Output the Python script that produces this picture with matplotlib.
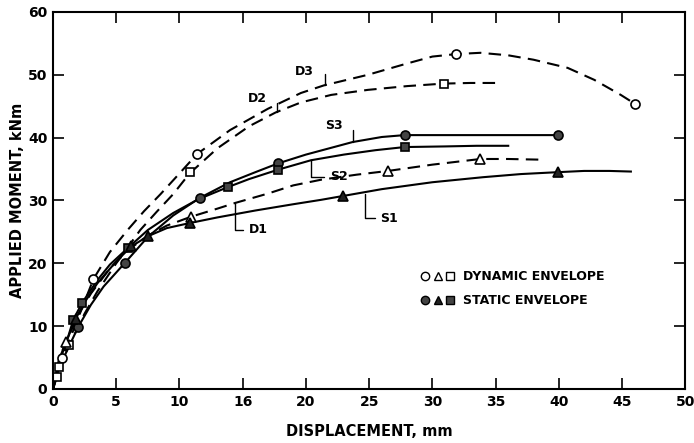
import matplotlib
matplotlib.use("Agg")
import matplotlib.pyplot as plt
from matplotlib.lines import Line2D
from matplotlib.legend_handler import HandlerTuple

# Curves: displacement (mm) vs applied moment (kNm)
d3_x = [0, 0.7, 1.5, 3.2, 4.5, 5.9, 7.2, 8.5, 10.0, 11.4, 14.0, 17.0, 19.6, 21.4, 24.9, 28.0,
        30.0, 31.9, 33.8, 36.0, 38.0, 40.7, 42.8, 44.9, 46.0]
d3_y = [0, 4.9, 8.8, 17.5, 21.8, 25.3, 28.3, 31.0, 34.3, 37.4, 41.2, 44.6, 47.1, 48.3, 50.0, 51.8,
        52.9, 53.3, 53.5, 53.1, 52.4, 51.1, 49.2, 46.8, 45.4]
d3_mx = [0.7, 3.2, 11.4, 31.9, 46.0]
d3_my = [4.9, 17.5, 37.4, 53.3, 45.4]

d2_x = [0, 0.3, 0.5, 1.3, 2.5, 3.5, 5.0, 6.9, 8.2, 9.5, 10.8, 13.0, 15.5, 17.6, 19.6, 22.0,
        24.9, 28.0, 30.9, 33.0, 35.3]
d2_y = [0, 1.9, 3.5, 7.0, 12.0, 15.5, 20.0, 25.3, 28.2, 31.0, 34.3, 38.3, 41.8, 44.0, 45.6, 46.8,
        47.6, 48.2, 48.6, 48.7, 48.7]
d2_mx = [0.3, 0.5, 1.3, 10.8, 30.9]
d2_my = [1.9, 3.5, 7.0, 34.6, 48.6]

d1_x = [0, 0.5, 1.0, 2.0, 3.0, 4.5, 6.0, 7.5, 9.0, 10.9, 13.0, 14.4, 17.0, 19.0, 21.2, 24.0,
        26.5, 30.0, 33.8, 36.0, 38.4]
d1_y = [0, 4.9, 7.4, 11.8, 15.2, 19.2, 22.2, 24.4, 26.0, 27.4, 28.7, 29.6, 31.1, 32.4, 33.3, 34.1,
        34.7, 35.7, 36.6, 36.6, 36.5]
d1_mx = [1.0, 10.9, 26.5, 33.8]
d1_my = [7.4, 27.4, 34.7, 36.6]

s3_x = [0, 0.5, 1.2, 2.0, 3.0, 4.0, 5.7, 7.5, 9.5, 11.6, 14.0, 16.0, 17.8, 20.0, 23.7, 26.0,
        27.8, 32.0, 36.0, 39.9]
s3_y = [0, 3.5, 6.5, 9.9, 13.4, 16.3, 20.1, 24.2, 27.6, 30.4, 32.9, 34.5, 35.9, 37.3, 39.3, 40.1,
        40.4, 40.4, 40.4, 40.4]
s3_mx = [2.0, 5.7, 11.6, 17.8, 27.8, 39.9]
s3_my = [9.9, 20.1, 30.4, 35.9, 40.4, 40.4]

s2_x = [0, 0.5, 1.0, 1.6, 2.3, 3.5, 4.5, 5.9, 7.5, 9.5, 11.5, 13.8, 15.5, 17.8, 20.4, 23.0,
        25.5, 27.8, 31.0, 33.5, 36.0]
s2_y = [0, 4.5, 7.0, 11.0, 13.7, 17.3, 19.8, 22.4, 25.3, 28.0, 30.2, 32.1, 33.4, 34.9, 36.4, 37.3,
        38.0, 38.5, 38.6, 38.7, 38.7]
s2_mx = [1.6, 2.3, 5.9, 13.8, 17.8, 27.8]
s2_my = [11.0, 13.7, 22.4, 32.1, 34.9, 38.5]

s1_x = [0, 0.5, 1.0, 1.8, 2.5, 3.5, 5.0, 6.2, 7.5, 9.0, 10.8, 13.0, 16.0, 19.0, 21.2, 22.9,
        26.0, 30.0, 34.0, 37.0, 39.9, 42.0, 44.0, 45.7]
s1_y = [0, 4.8, 7.3, 11.2, 13.8, 16.8, 20.3, 22.7, 24.3, 25.6, 26.4, 27.3, 28.4, 29.4, 30.1, 30.7,
        31.8, 32.9, 33.7, 34.2, 34.5, 34.7, 34.7, 34.6]
s1_mx = [1.8, 6.2, 7.5, 10.8, 22.9, 39.9]
s1_my = [11.2, 22.7, 24.3, 26.4, 30.7, 34.5]

x_ticks = [0, 5, 10, 15, 20, 25, 30, 35, 40, 45, 50]
x_tick_labels = ["0", "5", "10", "16", "20", "25", "30", "35", "40", "45", "50"]
y_ticks = [0, 10, 20, 30, 40, 50, 60]

# curve labels: text position, point on curve
labels = [
    ("D3", (19.9, 50.5), (21.5, 48.4), "right"),
    ("D2", (16.2, 46.3), (17.7, 44.1), "right"),
    ("S3", (22.2, 41.9), (23.7, 39.3), "right"),
    ("S2", (21.9, 33.8), (20.4, 36.5), "left"),
    ("D1", (15.5, 25.3), (14.4, 29.6), "left"),
    ("S1", (25.9, 27.2), (24.7, 31.0), "left"),
]

plt.rcParams["font.family"] = "DejaVu Sans"
plt.rcParams["font.weight"] = "bold"

fig = plt.figure(figsize=(6.94, 4.43), dpi=100)
ax = fig.add_axes([0.0764, 0.122, 0.911, 0.851])

dash = (6, 3.5)
lw = 1.5
ms = 6.5

ax.plot(d3_x, d3_y, color="black", lw=lw, dashes=dash)
ax.plot(d2_x, d2_y, color="black", lw=lw, dashes=dash)
ax.plot(d1_x, d1_y, color="black", lw=lw, dashes=dash)
ax.plot(s3_x, s3_y, color="black", lw=lw)
ax.plot(s2_x, s2_y, color="black", lw=lw)
ax.plot(s1_x, s1_y, color="black", lw=lw)

ax.plot(d3_mx, d3_my, "o", mfc="white", mec="black", mew=1.2, ms=ms, ls="none")
ax.plot(d2_mx, d2_my, "s", mfc="white", mec="black", mew=1.2, ms=ms - 0.5, ls="none")
ax.plot(d1_mx, d1_my, "^", mfc="white", mec="black", mew=1.2, ms=ms, ls="none")
ax.plot(s3_mx, s3_my, "o", mfc="#444444", mec="black", mew=1.2, ms=ms, ls="none")
ax.plot(s2_mx, s2_my, "s", mfc="#444444", mec="black", mew=1.2, ms=ms - 0.5, ls="none")
ax.plot(s1_mx, s1_my, "^", mfc="#222222", mec="black", mew=1.2, ms=ms, ls="none")

for name, txt, pt, side in labels:
    if side == "right":
        ax.annotate(name, xy=pt, xytext=txt, fontsize=9, fontweight="bold",
                    ha="center", va="center",
                    arrowprops=dict(arrowstyle="-", lw=1.0, color="black",
                                    connectionstyle="angle,angleA=0,angleB=90,rad=0",
                                    shrinkA=6, shrinkB=0))
    else:
        ax.annotate(name, xy=pt, xytext=txt, fontsize=9, fontweight="bold",
                    ha="left", va="center",
                    arrowprops=dict(arrowstyle="-", lw=1.0, color="black",
                                    connectionstyle="angle,angleA=180,angleB=90,rad=0",
                                    shrinkA=2, shrinkB=0))

dyn = (Line2D([], [], marker="o", ls="none", mfc="white", mec="black", ms=6),
       Line2D([], [], marker="^", ls="none", mfc="white", mec="black", ms=6),
       Line2D([], [], marker="s", ls="none", mfc="white", mec="black", ms=5.5))
sta = (Line2D([], [], marker="o", ls="none", mfc="#444444", mec="black", ms=6),
       Line2D([], [], marker="^", ls="none", mfc="#222222", mec="black", ms=6),
       Line2D([], [], marker="s", ls="none", mfc="#444444", mec="black", ms=5.5))
ax.legend([dyn, sta], ["DYNAMIC ENVELOPE", "STATIC ENVELOPE"],
          handler_map={tuple: HandlerTuple(ndivide=None, pad=0.2)},
          loc="upper left", bbox_to_anchor=(0.563, 0.345), frameon=False,
          handlelength=2.8, handletextpad=0.6, labelspacing=0.9,
          prop={"size": 9, "weight": "bold"})

ax.set_xlim(0, 50)
ax.set_ylim(0, 60)
ax.set_xticks(x_ticks)
ax.set_xticklabels(x_tick_labels)
ax.set_yticks(y_ticks)
ax.tick_params(direction="in", length=8, width=1.2, top=True, right=True,
               labelsize=10, pad=4)
for lbl in ax.get_xticklabels() + ax.get_yticklabels():
    lbl.set_fontweight("bold")
for s in ax.spines.values():
    s.set_linewidth(1.5)

ax.set_xlabel("DISPLACEMENT, mm", fontsize=10.5, fontweight="bold", labelpad=11)
ax.set_ylabel("APPLIED MOMENT, kNm", fontsize=10.5, fontweight="bold", labelpad=2)

fig.savefig("out.png", dpi=100)
